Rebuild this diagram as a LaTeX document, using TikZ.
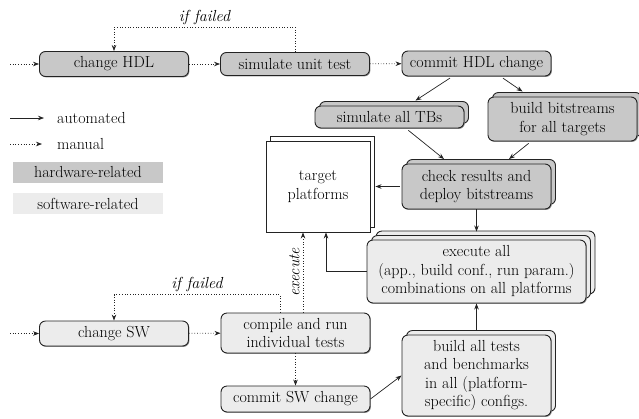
\documentclass[tikz,border=0pt]{standalone}
\usepackage{fontspec}
\usetikzlibrary{arrows.meta,shadows,calc}
\definecolor{hw}{RGB}{200,200,200}
\definecolor{sw}{RGB}{236,236,236}
\definecolor{edge}{RGB}{35,35,35}
\tikzset{
  every node/.style={font=\fontsize{16}{18.5}\selectfont},
  boxbase/.style={draw=edge, line width=0.9pt, rounded corners=6pt, align=center, inner sep=0pt, minimum width=149pt},
  hwbox/.style={boxbase, fill=hw},
  swbox/.style={boxbase, fill=sw},
  hwcopy/.style={general shadow={shadow xshift=#1, shadow yshift=#1, fill=hw, draw=edge, line width=0.9pt}},
  swcopy/.style={general shadow={shadow xshift=#1, shadow yshift=#1, fill=sw, draw=edge, line width=0.9pt}},
  ds/.style={general shadow={shadow xshift=0.9pt, shadow yshift=-0.9pt, fill=black!45}},
  tip/.style={-{Stealth[length=6pt,width=4.5pt]}},
  autoline/.style={tip, line width=0.7pt, draw=edge},
  manline/.style={tip, line width=0.7pt, draw=edge, dotted},
  lbl/.style={font=\fontsize{16}{18.5}\selectfont\itshape}
}
\begin{document}
\begin{tikzpicture}[x=1pt,y=-1pt]
\useasboundingbox (0,0) rectangle (639,418);

% hardware row
\node[hwbox, ds, minimum height=25pt] (chdl) at (114,64) {change HDL};
\node[hwbox, ds, minimum height=23pt] (sut) at (295,64) {simulate unit test};
\node[hwbox, ds, minimum height=25pt] (chc) at (476.5,63.5) {commit HDL change};
\node[hwbox, hwcopy=4.5pt, ds, minimum height=22pt] (satb) at (389.5,117) {simulate all TBs};
\node[hwbox, hwcopy=4.5pt, ds, minimum height=44pt] (bb) at (562.5,119) {build bitstreams\\for all targets};
\node[hwbox, hwcopy=4.5pt, ds, minimum height=45pt] (crd) at (476.5,186.5) {check results and\\deploy bitstreams};

% target platforms
\node[draw=edge, line width=0.9pt, fill=white, align=center, inner sep=0pt,
      minimum width=104pt, minimum height=91pt,
      general shadow={shadow xshift=4.5pt, shadow yshift=4.5pt, fill=white, draw=edge, line width=0.9pt}]
      (tp) at (318,186.5) {target\\platforms};

% software
\node[swbox, general shadow={shadow xshift=9pt, shadow yshift=9pt, fill=sw, draw=edge, line width=0.9pt},
      swcopy=4.5pt, ds, minimum width=219pt, minimum height=63pt] (exa) at (476.5,271.5)
      {execute all\\(app., build conf., run param.)\\combinations on all platforms};
\node[swbox, ds, minimum height=25pt] (csw) at (114,333.5) {change SW};
\node[swbox, ds, minimum height=40pt] (cri) at (295.5,333) {compile and run\\individual tests};
\node[swbox, ds, minimum height=26pt] (csc) at (295.5,399) {commit SW change};
\node[swbox, swcopy=4.5pt, ds, minimum height=81pt] (bat) at (476.5,375.5)
      {build all tests\\and benchmarks\\in all (platform-\\specific) configs.};

% legend
\coordinate (la1) at (10,118); \coordinate (la2) at (44,118);
\coordinate (lm1) at (10,144); \coordinate (lm2) at (42,144);
\draw[autoline] (la1) -- (la2);
\node[anchor=west, inner sep=0pt] (lat) at (57,118) {automated};
\draw[manline] (lm1) -- (lm2);
\node[anchor=west, inner sep=0pt] (lmt) at (57,144) {manual};
\node[fill=hw, minimum width=150pt, minimum height=21pt, inner sep=0pt] (lhw) at (88,172.5) {hardware-related};
\node[fill=sw, minimum width=150pt, minimum height=21pt, inner sep=0pt] (lsw) at (88,203.5) {software-related};

% hardware flow
\coordinate (in1) at (10,64);
\draw[manline] (in1) -- (chdl);
\draw[manline] (chdl) -- (sut);
\draw[manline] (sut) -- (chc);
\draw[manline] (sut.north) -- ++(0,-25) -| node[pos=0.25, above, lbl, inner sep=2pt] {if failed} (chdl.north);
\draw[autoline, shorten <=3pt] ([xshift=-24pt]chc.south) -- ($(satb.north)+(26,-5)$);
\draw[autoline, shorten <=3pt] ([xshift=24pt]chc.south) -- ($(bb.north)+(-40,-5)$);
\draw[autoline, shorten <=3pt] ([xshift=16.5pt]satb.south) -- ($(crd.north)+(-32.5,-4.5)$);
\draw[autoline, shorten <=3pt] ([xshift=-31.5pt]bb.south) -- ($(crd.north)+(32.5,-4.5)$);
\draw[autoline] ([xshift=-2pt]crd.west) -- ($(tp.east)+(5,0)$);
\draw[autoline] (crd.south) -- ($(exa.north)+(0,-8)$);

% software flow
\draw[autoline] (exa.west) -| ($(tp.south)+(8,0)$);
\draw[autoline] ($(bat.north)+(0,-5)$) -- (exa.south);
\draw[autoline] (csc.east) -- (bat.west);
\draw[manline] (cri.south) -- (csc.north);
\coordinate (in2) at (10,333.5);
\draw[manline] (in2) -- (csw);
\draw[manline] (csw) -- (cri);
\draw[manline] ([xshift=-15.5pt]cri.north) -- ++(0,-18) -| node[pos=0.25, above, lbl, inner sep=2pt] {if failed} (csw.north);
\draw[manline] ([xshift=7.5pt]cri.north) -- node[midway, rotate=90, anchor=south, lbl, inner sep=3pt] {execute} ([xshift=-15pt]tp.south);
\end{tikzpicture}
\end{document}
